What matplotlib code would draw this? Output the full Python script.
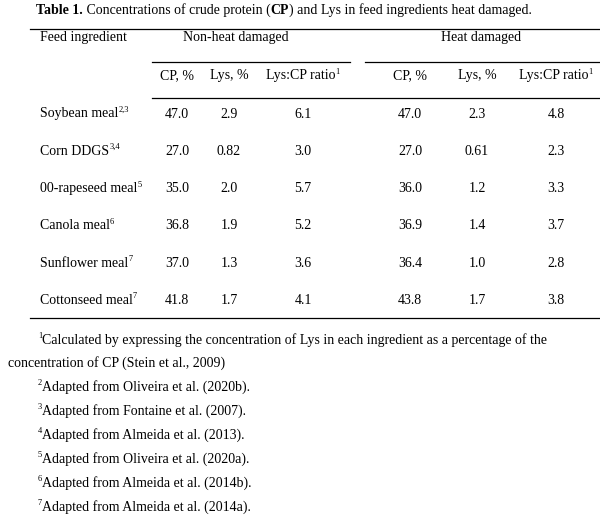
import glob
import matplotlib
matplotlib.use("Agg")
import matplotlib.pyplot as plt
from matplotlib import font_manager

# find the Times-like serif font file directly
serif_files = glob.glob("/usr/share/fonts/**/LiberationSerif-Regular.ttf", recursive=True)
bold_files = glob.glob("/usr/share/fonts/**/LiberationSerif-Bold.ttf", recursive=True)
if serif_files:
    font_manager.fontManager.addfont(serif_files[0])
    if bold_files:
        font_manager.fontManager.addfont(bold_files[0])
    family = font_manager.FontProperties(fname=serif_files[0]).get_name()
else:
    family = "serif"
plt.rcParams["font.family"] = family

ingredients = ["Soybean meal", "Corn DDGS", "00-rapeseed meal", "Canola meal",
               "Sunflower meal", "Cottonseed meal"]
ingredient_notes = ["2,3", "3,4", "5", "6", "7", "7"]
cp_non = ["47.0", "27.0", "35.0", "36.8", "37.0", "41.8"]
lys_non = ["2.9", "0.82", "2.0", "1.9", "1.3", "1.7"]
ratio_non = ["6.1", "3.0", "5.7", "5.2", "3.6", "4.1"]
cp_heat = ["47.0", "27.0", "36.0", "36.9", "36.4", "43.8"]
lys_heat = ["2.3", "0.61", "1.2", "1.4", "1.0", "1.7"]
ratio_heat = ["4.8", "2.3", "3.3", "3.7", "2.8", "3.8"]
footnotes = [
    ("2", "Adapted from Oliveira et al. (2020b)."),
    ("3", "Adapted from Fontaine et al. (2007)."),
    ("4", "Adapted from Almeida et al. (2013)."),
    ("5", "Adapted from Oliveira et al. (2020a)."),
    ("6", "Adapted from Almeida et al. (2014b)."),
    ("7", "Adapted from Almeida et al. (2014a)."),
]

fig = plt.figure(figsize=(6, 5.18), dpi=100)
ax = fig.add_axes([0, 0, 1, 1])
ax.set_xlim(0, 600)
ax.set_ylim(518, 0)
ax.axis("off")
fig.canvas.draw()
r = fig.canvas.get_renderer()

fs = 10.0


def width(t):
    return t.get_window_extent(r).width


def pieces(x, y, parts, ha="left"):
    # parts: list of (text, kind) where kind is "n", "b" or "s" (superscript)
    arts = []
    cx = x
    for s, kind in parts:
        if kind == "s":
            t = ax.text(cx, y - 4, s, fontsize=fs * 0.6, va="center")
        else:
            t = ax.text(cx, y, s, fontsize=fs, va="center",
                        fontweight="bold" if kind == "b" else "normal")
        arts.append(t)
        cx += width(t)
    if ha == "center":
        shift = (cx - x) / 2
        for t in arts:
            t.set_x(t.get_position()[0] - shift)


pieces(36, 10, [("Table 1.", "b"), (" Concentrations of crude protein (", "n"),
                ("CP", "b"), (") and Lys in feed ingredients heat damaged.", "n")])

lw = 0.9
ax.plot([30, 600], [29, 29], color="black", lw=lw)
ax.plot([152, 350], [62, 62], color="black", lw=lw)
ax.plot([365, 600], [62, 62], color="black", lw=lw)
ax.plot([152, 600], [98, 98], color="black", lw=lw)
ax.plot([30, 600], [318, 318], color="black", lw=lw)

pieces(40, 38, [("Feed ingredient", "n")])
pieces(236, 38, [("Non-heat damaged", "n")], ha="center")
pieces(481, 38, [("Heat damaged", "n")], ha="center")

cols = [177, 229, 303, 410, 477, 556]
heads = [[("CP, %", "n")], [("Lys, %", "n")], [("Lys:CP ratio", "n"), ("1", "s")],
         [("CP, %", "n")], [("Lys, %", "n")], [("Lys:CP ratio", "n"), ("1", "s")]]
for cx, h in zip(cols, heads):
    pieces(cx, 76, h, ha="center")

series = [cp_non, lys_non, ratio_non, cp_heat, lys_heat, ratio_heat]
for i, name in enumerate(ingredients):
    y = 114 + i * 37.3
    pieces(40, y, [(name, "n"), (ingredient_notes[i], "s")])
    for cx, s in zip(cols, series):
        pieces(cx, y, [(s[i], "n")], ha="center")

pieces(38, 340, [("1", "s"), ("Calculated by expressing the concentration of Lys in each ingredient as a percentage of the", "n")])
pieces(8, 363, [("concentration of CP (Stein et al., 2009)", "n")])
for i, (n, s) in enumerate(footnotes):
    pieces(38, 387 + i * 24, [(n, "s"), (s, "n")])

fig.savefig("out.png", dpi=100)
